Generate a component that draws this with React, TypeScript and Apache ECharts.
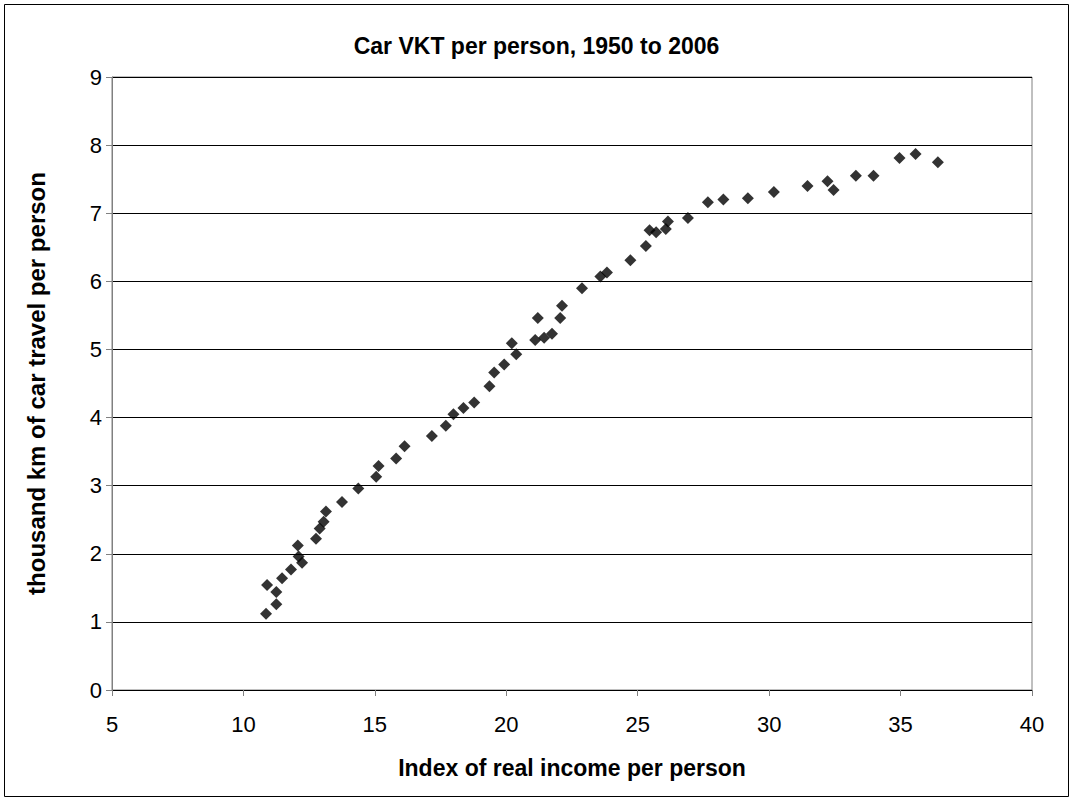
import React, { useEffect, useRef } from "react";
import * as echarts from "echarts";

const incomeIndex: number[] = [
  10.86, 11.25, 10.9, 11.25, 11.47, 11.81, 12.1, 12.23, 12.07, 12.76,
  12.9, 13.05, 13.14, 13.75, 14.37, 15.05, 15.14, 15.81, 16.13, 17.17,
  17.7, 17.99, 18.37, 18.78, 19.36, 19.54, 19.92, 20.21, 20.38, 21.1,
  21.2, 21.44, 21.74, 22.05, 22.12, 22.88, 23.58, 23.83, 24.72, 25.31,
  25.45, 25.7, 26.07, 26.15, 26.91, 27.67, 28.26, 29.19, 30.18, 31.46,
  32.22, 32.45, 33.3, 33.97, 34.96, 35.57, 36.42,
];
const vktPerPerson: number[] = [
  1.12, 1.26, 1.54, 1.44, 1.64, 1.77, 1.96, 1.87, 2.12, 2.22,
  2.37, 2.47, 2.62, 2.76, 2.96, 3.13, 3.29, 3.4, 3.58, 3.73,
  3.88, 4.05, 4.14, 4.22, 4.46, 4.66, 4.78, 5.09, 4.93, 5.14,
  5.46, 5.17, 5.23, 5.46, 5.64, 5.9, 6.07, 6.13, 6.31, 6.52,
  6.75, 6.72, 6.77, 6.88, 6.93, 7.16, 7.2, 7.22, 7.31, 7.4,
  7.47, 7.34, 7.55, 7.55, 7.81, 7.87, 7.75,
];

const titleText = "Car VKT per person, 1950 to 2006";
const xName = "Index of real income per person";
const yName = "thousand km of car travel per person";

export default function App() {
  const ref = useRef<HTMLDivElement>(null);
  useEffect(() => {
    document.body.style.margin = "0";
    const chart = echarts.init(ref.current!, null, { renderer: "svg" });
    const font = "'Liberation Sans', Arial, sans-serif";
    chart.setOption({
      animation: false,
      backgroundColor: "#fff",
      graphic: [
        {
          type: "rect",
          shape: { x: 4.5, y: 4.5, width: 1064, height: 792 },
          style: { fill: "none", stroke: "#000", lineWidth: 1 },
          silent: true,
        },
      ],
      title: {
        text: titleText,
        left: "center",
        top: 29,
        textStyle: { fontFamily: font, fontSize: 23, fontWeight: "bold", color: "#000" },
      },
      grid: {
        left: 112,
        top: 77,
        right: 41,
        bottom: 110,
        show: true,
        borderColor: "#808080",
        borderWidth: 1,
        backgroundColor: "transparent",
      },
      xAxis: {
        type: "value",
        min: 5,
        max: 40,
        interval: 5,
        name: xName,
        nameLocation: "middle",
        nameGap: 66,
        nameTextStyle: { fontFamily: font, fontSize: 23, fontWeight: "bold", color: "#000" },
        axisLine: { show: true, onZero: false, lineStyle: { color: "#000", width: 1 } },
        axisTick: { show: true, length: 6, lineStyle: { color: "#808080" } },
        axisLabel: { fontFamily: font, fontSize: 22, color: "#000", margin: 23 },
        splitLine: { show: false },
      },
      yAxis: {
        type: "value",
        min: 0,
        max: 9,
        interval: 1,
        name: yName,
        nameLocation: "middle",
        nameGap: 64,
        nameTextStyle: { fontFamily: font, fontSize: 24, fontWeight: "bold", color: "#000" },
        axisLine: { show: true, lineStyle: { color: "#808080", width: 1 } },
        axisTick: { show: true, length: 6, lineStyle: { color: "#808080" } },
        axisLabel: { fontFamily: font, fontSize: 22, color: "#000", margin: 10 },
        splitLine: { show: true, lineStyle: { color: "#000", width: 1 } },
      },
      series: [
        {
          type: "scatter",
          symbol: "diamond",
          symbolSize: 12,
          itemStyle: { color: "#000" },
          data: incomeIndex.map((x, i) => [x, vktPerPerson[i]]),
        },
      ],
    });
    return () => chart.dispose();
  }, []);
  return <div ref={ref} style={{ width: 1073, height: 800 }} />;
}
